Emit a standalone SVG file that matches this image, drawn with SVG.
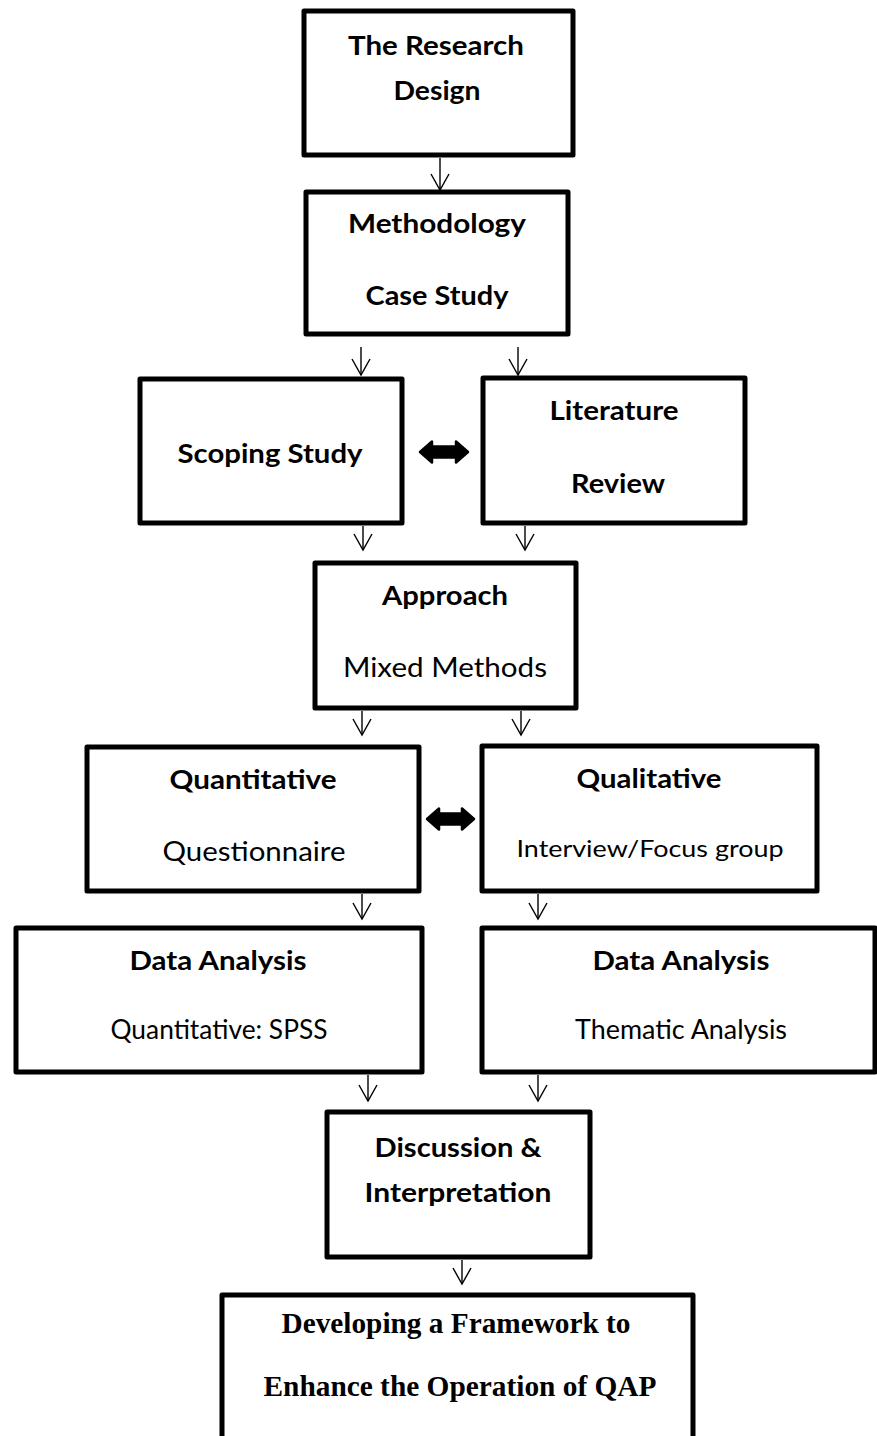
<svg xmlns="http://www.w3.org/2000/svg" width="877" height="1436" viewBox="0 0 877 1436">
  <defs>
    <style>
      .box { fill: #ffffff; stroke: #000000; stroke-width: 5; stroke-linejoin: round; }
      .lbl { font-family: Lato, "Open Sans", "Liberation Sans", sans-serif; font-size: 27.5px; font-weight: 700; fill: #000000; text-anchor: middle; }
      .reg { font-weight: 400; font-size: 27px; }
      .sm { font-size: 24px; }
      .serif { font-family: "Liberation Serif", "Times New Roman", serif; font-size: 30px; font-weight: 700; }
      .flow { fill: none; stroke: #000000; stroke-width: 1.4; marker-end: url(#head); }
      .both { fill: #000000; stroke: #000000; stroke-width: 2.5; stroke-linejoin: round; }
    </style>
    <marker id="head" markerUnits="userSpaceOnUse" markerWidth="24" markerHeight="24" viewBox="-18 -12 20 24" refX="0" refY="0" orient="auto" overflow="visible">
      <path d="M -16 -9 L 0 0 L -16 9" fill="none" stroke="#000000" stroke-width="1.4" stroke-linejoin="miter"/>
    </marker>
  </defs>
  <rect width="877" height="1436" fill="#ffffff"/>

  <!-- connectors -->
  <g id="connectors">
    <path class="flow" d="M 440 158 V 190"/>
    <path class="flow" d="M 361 347 V 375"/>
    <path class="flow" d="M 518 347 V 375"/>
    <path class="flow" d="M 363 526 V 550"/>
    <path class="flow" d="M 525 526 V 550"/>
    <path class="flow" d="M 362 711 V 735"/>
    <path class="flow" d="M 521 711 V 735"/>
    <path class="flow" d="M 362 894 V 919"/>
    <path class="flow" d="M 538 894 V 919"/>
    <path class="flow" d="M 368 1075 V 1101"/>
    <path class="flow" d="M 538 1075 V 1101"/>
    <path class="flow" d="M 462 1260 V 1284"/>
    <path class="both" d="M 420 452 L 432 441.5 L 432 446.5 L 456 446.5 L 456 441.5 L 468 452 L 456 462.5 L 456 457.5 L 432 457.5 L 432 462.5 Z"/>
    <path class="both" d="M 427 819 L 439 808.5 L 439 813.5 L 462 813.5 L 462 808.5 L 474 819 L 462 829.5 L 462 824.5 L 439 824.5 L 439 829.5 Z"/>
  </g>

  <g id="research-design">
    <rect class="box" x="304" y="11" width="269" height="144"/>
    <text class="lbl" x="436" y="55" textLength="176" lengthAdjust="spacingAndGlyphs">The Research</text>
    <text class="lbl" x="437" y="100" textLength="87" lengthAdjust="spacingAndGlyphs">Design</text>
  </g>

  <g id="methodology">
    <rect class="box" x="306" y="192" width="262" height="142"/>
    <text class="lbl" x="437" y="233" textLength="178" lengthAdjust="spacingAndGlyphs">Methodology</text>
    <text class="lbl" x="437" y="305" textLength="143" lengthAdjust="spacingAndGlyphs">Case Study</text>
  </g>

  <g id="scoping-study">
    <rect class="box" x="140" y="379" width="262" height="144"/>
    <text class="lbl" x="270" y="463" textLength="185" lengthAdjust="spacingAndGlyphs">Scoping Study</text>
  </g>

  <g id="literature-review">
    <rect class="box" x="483" y="378" width="262" height="145"/>
    <text class="lbl" x="614" y="420" textLength="129" lengthAdjust="spacingAndGlyphs">Literature</text>
    <text class="lbl" x="618" y="493" textLength="94" lengthAdjust="spacingAndGlyphs">Review</text>
  </g>

  <g id="approach">
    <rect class="box" x="315" y="563" width="261" height="145"/>
    <text class="lbl" x="445" y="605" textLength="126" lengthAdjust="spacingAndGlyphs">Approach</text>
    <text class="lbl reg" x="445" y="677" textLength="204" lengthAdjust="spacingAndGlyphs">Mixed Methods</text>
  </g>

  <g id="quantitative">
    <rect class="box" x="87" y="747" width="332" height="144"/>
    <text class="lbl" x="253" y="789" textLength="167" lengthAdjust="spacingAndGlyphs">Quantitative</text>
    <text class="lbl reg" x="254" y="861" textLength="183" lengthAdjust="spacingAndGlyphs">Questionnaire</text>
  </g>

  <g id="qualitative">
    <rect class="box" x="482" y="746" width="335" height="145"/>
    <text class="lbl" x="649" y="788" textLength="145" lengthAdjust="spacingAndGlyphs">Qualitative</text>
    <text class="lbl reg sm" x="650" y="857" textLength="267" lengthAdjust="spacingAndGlyphs">Interview/Focus group</text>
  </g>

  <g id="analysis-quantitative">
    <rect class="box" x="16" y="928" width="406" height="144"/>
    <text class="lbl" x="218" y="970" textLength="177" lengthAdjust="spacingAndGlyphs">Data Analysis</text>
    <text class="lbl reg" x="219" y="1039" textLength="217" lengthAdjust="spacingAndGlyphs">Quantitative: SPSS</text>
  </g>

  <g id="analysis-qualitative">
    <rect class="box" x="482" y="928" width="393" height="144"/>
    <text class="lbl" x="681" y="970" textLength="177" lengthAdjust="spacingAndGlyphs">Data Analysis</text>
    <text class="lbl reg" x="681" y="1039" textLength="212" lengthAdjust="spacingAndGlyphs">Thematic Analysis</text>
  </g>

  <g id="discussion">
    <rect class="box" x="327" y="1112" width="263" height="145"/>
    <text class="lbl" x="458" y="1157" textLength="167" lengthAdjust="spacingAndGlyphs">Discussion &amp;</text>
    <text class="lbl" x="458" y="1202" textLength="187" lengthAdjust="spacingAndGlyphs">Interpretation</text>
  </g>

  <g id="framework">
    <rect class="box" x="222" y="1295" width="471" height="165"/>
    <text class="lbl serif" x="456" y="1333" textLength="349" lengthAdjust="spacingAndGlyphs">Developing a Framework to</text>
    <text class="lbl serif" x="460" y="1396" textLength="393" lengthAdjust="spacingAndGlyphs">Enhance the Operation of QAP</text>
  </g>
</svg>
